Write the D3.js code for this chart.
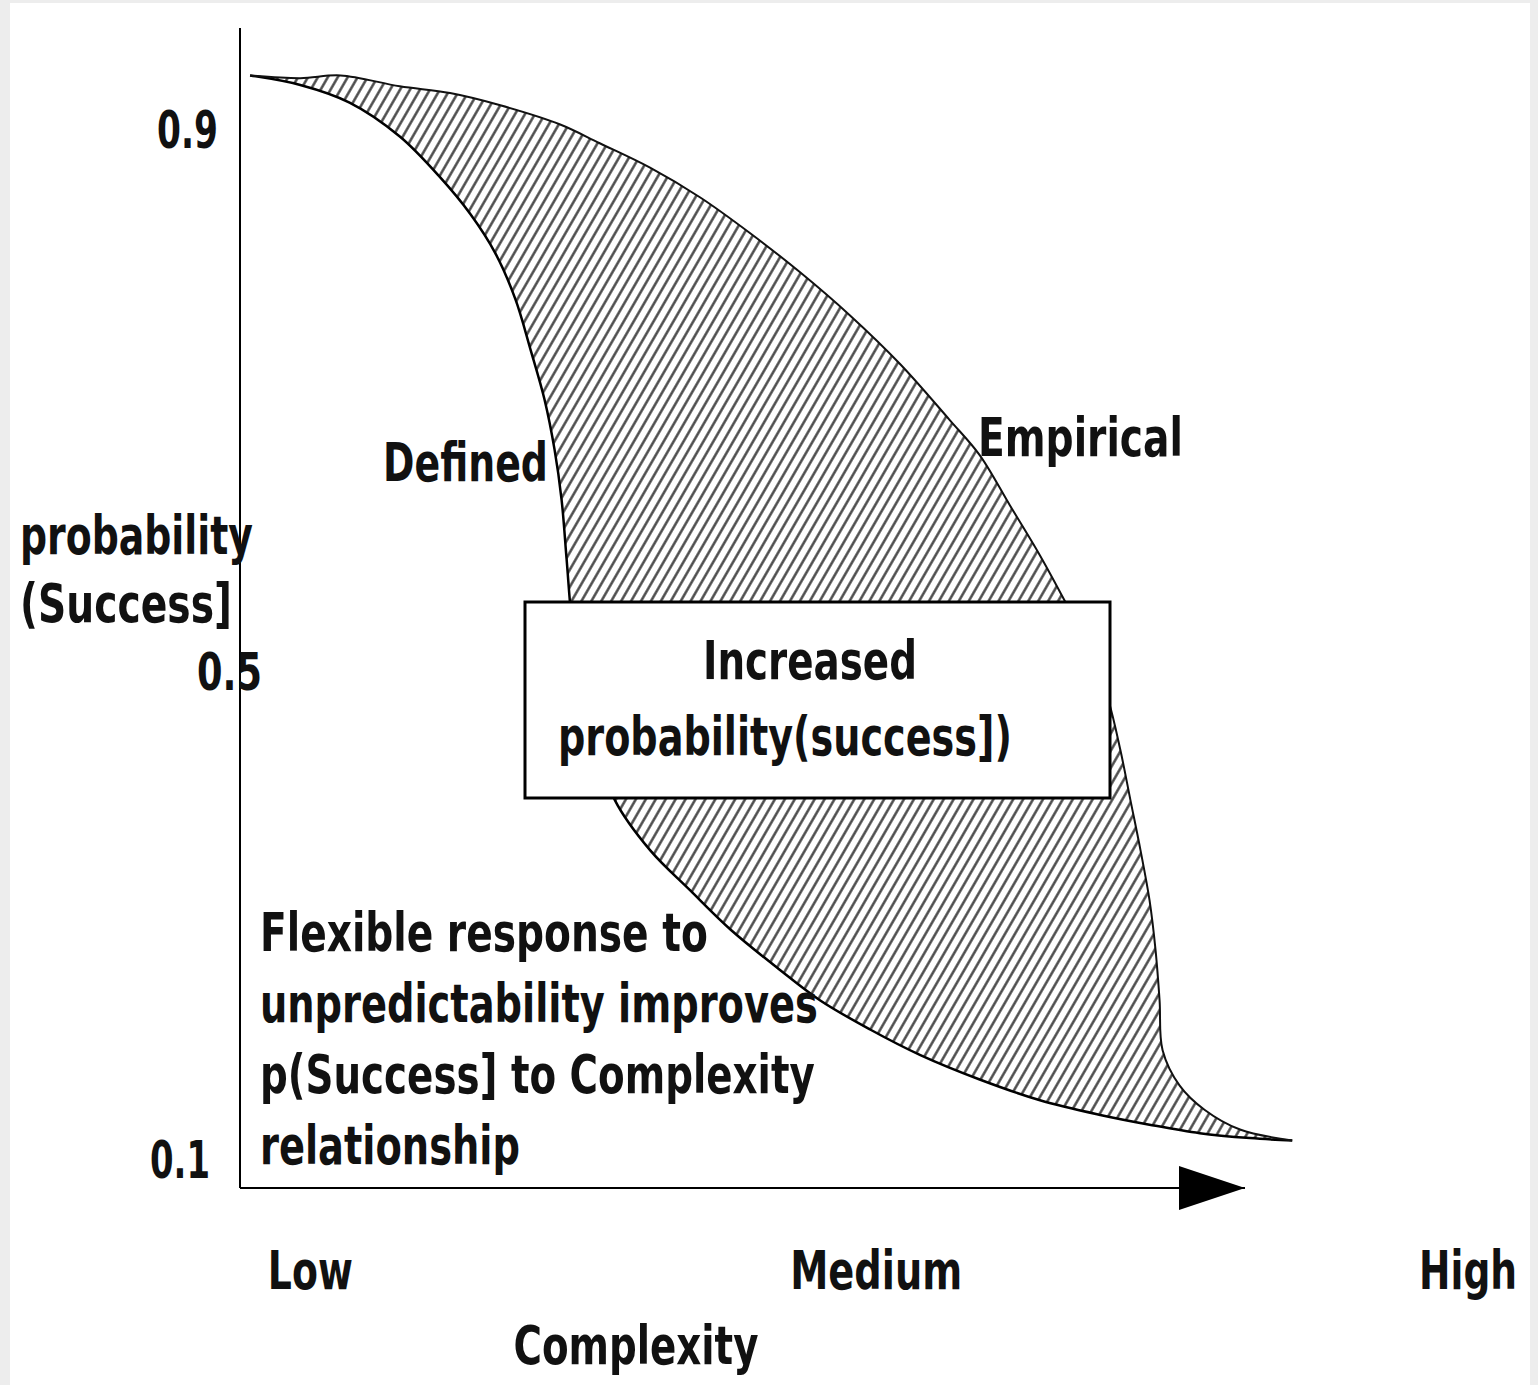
<!DOCTYPE html>
<html lang="en">
<head>
  <meta charset="UTF-8">
  <title>Complexity vs probability(Success)</title>
  <style>
    html, body {
      margin: 0;
      padding: 0;
      background: #ededed;
    }

    .container {
      position: absolute;
      left: 10px;
      top: 3px;
      width: 1520px;
      height: 1382px;
      background: #fff;
    }

    svg {
      position: absolute;
      left: -10px;
      top: -3px;
    }

    text {
      font-family: 'Liberation Sans Narrow', 'DejaVu Sans Condensed', sans-serif;
      font-stretch: condensed;
      font-weight: bold;
      fill: #111;
    }
  </style>
</head>
<body>
  <div class="container"></div>
  <script src="https://d3js.org/d3.v7.min.js"></script>
  <script>
    // complexity in 0..100 along the arrow, probability on y
    const definedX = [1.0, 6.0, 10.9, 15.9, 19.9, 22.9, 25.4, 27.4, 28.9, 30.3, 31.3, 32.0, 32.5, 33.0, 33.8, 35.3, 37.3,
      40.8, 44.8, 48.8, 53.7, 57.7, 62.7, 67.7, 73.6, 79.6, 85.6, 90.5, 95.5, 100.5, 104.7]
    const definedP = [0.940, 0.933, 0.920, 0.895, 0.865, 0.838, 0.809, 0.775, 0.738, 0.701, 0.664, 0.627, 0.583, 0.538, 0.493, 0.444, 0.395,
      0.354, 0.321, 0.289, 0.256, 0.231, 0.207, 0.186, 0.166, 0.149, 0.137, 0.129, 0.122, 0.118, 0.116]

    const empiricalX = [1.0, 6.0, 10.0, 15.9, 20.9, 25.9, 31.8, 35.8, 40.8, 45.8, 50.7, 55.7, 60.7, 65.7, 70.6, 73.6, 76.6, 79.6,
      82.1, 84.6, 86.4, 87.6, 88.6, 89.6, 90.5, 91.1, 91.5, 91.8, 93.5, 96.0, 99.5, 104.7]
    const empiricalP = [0.940, 0.938, 0.940, 0.932, 0.927, 0.918, 0.904, 0.890, 0.872, 0.850, 0.824, 0.795, 0.763, 0.727, 0.686, 0.660, 0.623, 0.586,
      0.552, 0.516, 0.477, 0.436, 0.395, 0.354, 0.313, 0.272, 0.231, 0.190, 0.161, 0.141, 0.125, 0.116]

    const yTicks = [0.9, 0.5, 0.1]
    const xTickLabels = ['Low', 'Medium', 'High']
    const xTickValues = [7.0, 63.3, 122.2]

    const yTitle = ['probability', '(Success]']
    const xTitle = 'Complexity'
    const boxLines = ['Increased', 'probability(success])']
    const noteLines = ['Flexible response to', 'unpredictability improves', 'p(Success] to Complexity', 'relationship']

    const W = 1538, H = 1385

    // the scanned lettering is very narrow, so every label is squeezed to its printed width
    const printedWidth = {
      '0.9': 61, '0.5': 65, '0.1': 60,
      'probability': 233, '(Success]': 212,
      'Defined': 165, 'Empirical': 205,
      'Increased': 214, 'probability(success])': 454,
      'Flexible response to': 448, 'unpredictability improves': 558,
      'p(Success] to Complexity': 555, 'relationship': 260,
      'Low': 85, 'Medium': 172, 'High': 98, 'Complexity': 245
    }
    // squeeze horizontally around the anchor point
    function fit(sel) {
      sel.each(function () {
        const t = d3.select(this)
        const k = printedWidth[this.textContent] / this.getComputedTextLength()
        const x = +t.attr('x')
        t.attr('transform', `translate(${x},0) scale(${k},1) translate(${-x},0)`)
      })
    }

    const xScale = d3.scaleLinear()
      .domain([0, 100])
      .range([240, 1245])

    // the printed ticks are not evenly spaced, so two linear pieces
    const yScale = d3.scaleLinear()
      .domain([0.0771, 0.5, 0.975])
      .range([1188, 672, 28])

    const svg = d3.select('.container')
      .append('svg')
      .attr('width', W)
      .attr('height', H)

    const defs = svg.append('defs')

    defs.append('pattern')
      .attr('id', 'hatch')
      .attr('patternUnits', 'userSpaceOnUse')
      .attr('width', 8.6)
      .attr('height', 8.6)
      .attr('patternTransform', 'rotate(30)')
      .append('line')
      .attr('x1', 4.3).attr('y1', -1)
      .attr('x2', 4.3).attr('y2', 9.6)
      .attr('stroke', '#444')
      .attr('stroke-width', 2.4)

    defs.append('marker')
      .attr('id', 'arrow')
      .attr('viewBox', '0 0 66 44')
      .attr('refX', 66)
      .attr('refY', 22)
      .attr('markerWidth', 66)
      .attr('markerHeight', 44)
      .attr('markerUnits', 'userSpaceOnUse')
      .attr('orient', 'auto')
      .append('path')
      .attr('d', 'M0,0 L66,22 L0,44 Z')
      .attr('fill', '#000')

    const defined = definedX.map((x, i) => [x, definedP[i]])
    const empirical = empiricalX.map((x, i) => [x, empiricalP[i]])

    const line = d3.line()
      .x(d => xScale(d[0]))
      .y(d => yScale(d[1]))
      .curve(d3.curveCatmullRom)

    // hatched band between the two curves
    const upper = line(empirical)
    const lower = line(defined.slice().reverse())
    svg.append('path')
      .attr('d', upper + 'L' + lower.slice(1) + 'Z')
      .attr('fill', 'url(#hatch)')
      .attr('stroke', 'none')

    svg.append('path')
      .attr('d', line(defined))
      .attr('fill', 'none')
      .attr('stroke', '#000')
      .attr('stroke-width', 2.5)

    svg.append('path')
      .attr('d', line(empirical))
      .attr('fill', 'none')
      .attr('stroke', '#111')
      .attr('stroke-width', 2)

    // axes
    svg.append('line')
      .attr('x1', xScale(0)).attr('y1', yScale.range()[0])
      .attr('x2', xScale(0)).attr('y2', yScale.range()[2])
      .attr('stroke', '#000')
      .attr('stroke-width', 2)

    svg.append('line')
      .attr('x1', xScale(0)).attr('y1', yScale.range()[0])
      .attr('x2', xScale(100)).attr('y2', yScale.range()[0])
      .attr('stroke', '#000')
      .attr('stroke-width', 2)
      .attr('marker-end', 'url(#arrow)')

    // y tick labels (the 0.5 sits across the axis in the original)
    const yLabelRight = { 0.9: 218, 0.5: 262, 0.1: 210 }
    svg.selectAll('.ytick')
      .data(yTicks)
      .enter()
      .append('text')
      .attr('class', 'ytick')
      .attr('x', d => yLabelRight[d])
      .attr('y', d => yScale(d))
      .attr('dy', '0.35em')
      .attr('text-anchor', 'end')
      .style('font-size', '52px')
      .text(d => d3.format('.1f')(d))
      .call(fit)

    svg.selectAll('.xtick')
      .data(xTickLabels)
      .enter()
      .append('text')
      .attr('class', 'xtick')
      .attr('x', (d, i) => xScale(xTickValues[i]))
      .attr('y', 1270)
      .attr('dy', '0.35em')
      .attr('text-anchor', 'middle')
      .style('font-size', '54px')
      .text(d => d)
      .call(fit)

    svg.append('text')
      .attr('x', xScale(39.4))
      .attr('y', 1345)
      .attr('dy', '0.35em')
      .attr('text-anchor', 'middle')
      .style('font-size', '54px')
      .text(xTitle)
      .call(fit)

    svg.selectAll('.ytitle')
      .data(yTitle)
      .enter()
      .append('text')
      .attr('class', 'ytitle')
      .attr('x', 20)
      .attr('y', (d, i) => 535 + i * 68)
      .attr('dy', '0.35em')
      .style('font-size', '54px')
      .text(d => d)
      .call(fit)

    // curve names
    svg.append('text')
      .attr('x', 383)
      .attr('y', 462)
      .attr('dy', '0.35em')
      .style('font-size', '54px')
      .text('Defined')
      .call(fit)

    svg.append('text')
      .attr('x', 978)
      .attr('y', 437)
      .attr('dy', '0.35em')
      .style('font-size', '54px')
      .text('Empirical')
      .call(fit)

    // callout box
    svg.append('rect')
      .attr('x', 525)
      .attr('y', 602)
      .attr('width', 585)
      .attr('height', 196)
      .attr('fill', '#fff')
      .attr('stroke', '#000')
      .attr('stroke-width', 3)

    svg.selectAll('.boxline')
      .data(boxLines)
      .enter()
      .append('text')
      .attr('class', 'boxline')
      .attr('x', (d, i) => i === 0 ? 703 : 558)
      .attr('y', (d, i) => 660 + i * 76)
      .attr('dy', '0.35em')
      .style('font-size', '54px')
      .text(d => d)
      .call(fit)

    svg.selectAll('.note')
      .data(noteLines)
      .enter()
      .append('text')
      .attr('class', 'note')
      .attr('x', 260)
      .attr('y', (d, i) => 932 + i * 71)
      .attr('dy', '0.35em')
      .style('font-size', '54px')
      .text(d => d)
      .call(fit)
  </script>
</body>
</html>
